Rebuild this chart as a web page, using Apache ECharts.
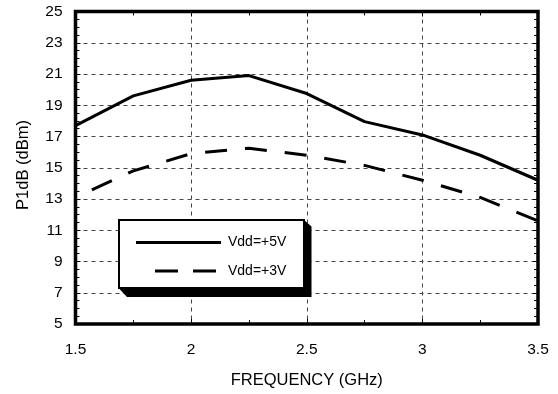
<!DOCTYPE html>
<html>
<head>
<meta charset="utf-8">
<script src="https://cdn.jsdelivr.net/npm/echarts@6/dist/echarts.min.js"></script>
<style>
  html, body { margin: 0; padding: 0; background: #fff; }
  #chart { width: 558px; height: 394px; }
</style>
</head>
<body>
<div id="chart"></div>
<script>
// Output power at 1 dB compression versus frequency, two supply voltages
const freqGHz = [1.5, 1.75, 2, 2.25, 2.5, 2.75, 3, 3.25, 3.5];
const p1dbVdd5 = [17.7, 19.6, 20.6, 20.9, 19.75, 17.95, 17.1, 15.8, 14.2];
const p1dbVdd3 = [13.1, 14.8, 15.9, 16.25, 15.8, 15.15, 14.2, 13.1, 11.6];
const seriesNames = ['Vdd=+5V', 'Vdd=+3V'];
const xTitle = 'FREQUENCY (GHz)';
const yTitle = 'P1dB (dBm)';
const xRange = [1.5, 3.5];
const yRange = [5, 25];

const FONT = '"Liberation Sans", Arial, Helvetica, sans-serif';
const grid = { left: 75.5, right: 20, top: 11.5, bottom: 67.3 };

const chart = echarts.init(document.getElementById('chart'), null, { renderer: 'canvas' });

const gridLine = { show: true, lineStyle: { color: '#444', width: 1, type: [4, 4] } };

function xAxisDef(position, withLabels) {
  return {
    type: 'value', position: position, min: xRange[0], max: xRange[1], interval: 0.5,
    axisLine: { show: false },
    axisTick: { show: true, inside: true, length: 5, lineStyle: { color: '#000' } },
    minorTick: { show: true, splitNumber: 2, length: 4, lineStyle: { color: '#000' } },
    splitLine: withLabels ? gridLine : { show: false },
    axisLabel: {
      show: withLabels, margin: 18, color: '#000', fontSize: 15.5, fontFamily: FONT,
      formatter: v => String(v)
    },
    name: withLabels ? xTitle : '',
    nameLocation: 'middle', nameGap: 48,
    nameTextStyle: { color: '#000', fontSize: 16.5, fontFamily: FONT }
  };
}

function yAxisDef(position, withLabels) {
  return {
    type: 'value', position: position, min: yRange[0], max: yRange[1], interval: 2,
    axisLine: { show: false },
    axisTick: { show: true, inside: true, length: 5, lineStyle: { color: '#000' } },
    minorTick: { show: true, splitNumber: 4, length: 4, lineStyle: { color: '#000' } },
    splitLine: withLabels ? gridLine : { show: false },
    axisLabel: {
      show: withLabels, margin: 13, color: '#000', fontSize: 15.5, fontFamily: FONT
    }
  };
}

const legendGraphics = [
  {
    type: 'text', x: 23, y: 165, rotation: Math.PI / 2,
    style: {
      text: yTitle, fill: '#000', font: '16.5px ' + FONT,
      align: 'center', verticalAlign: 'middle'
    }
  },
  // legend box with bevelled drop shadow
  {
    type: 'polygon', z: 10,
    shape: { points: [[304, 220], [311.5, 226.5], [311.5, 297], [127, 297], [119.5, 289]] },
    style: { fill: '#000' }
  },
  { type: 'rect', z: 11, shape: { x: 119, y: 220, width: 185, height: 68 }, style: { fill: '#fff', stroke: '#000', lineWidth: 2 } },
  { type: 'line', z: 12, shape: { x1: 136, y1: 242.5, x2: 221, y2: 242.5 }, style: { stroke: '#000', lineWidth: 3 } },
  { type: 'line', z: 12, shape: { x1: 155, y1: 271, x2: 216, y2: 271 }, style: { stroke: '#000', lineWidth: 3, lineDash: [23, 15] } },
  { type: 'text', z: 12, x: 228, y: 242.5, style: { text: seriesNames[0], fill: '#000', font: '14px ' + FONT, verticalAlign: 'middle' } },
  { type: 'text', z: 12, x: 228, y: 271, style: { text: seriesNames[1], fill: '#000', font: '14px ' + FONT, verticalAlign: 'middle' } }
];

chart.setOption({
  animation: false,
  backgroundColor: '#fff',
  grid: grid,
  xAxis: [xAxisDef('bottom', true), xAxisDef('top', false)],
  yAxis: [yAxisDef('left', true), yAxisDef('right', false)],
  series: [
    {
      name: seriesNames[0], type: 'line', symbol: 'none', z: 3,
      data: freqGHz.map((f, i) => [f, p1dbVdd5[i]]),
      lineStyle: { color: '#000', width: 3, type: 'solid' }
    },
    {
      name: seriesNames[1], type: 'line', symbol: 'none', z: 3,
      data: freqGHz.map((f, i) => [f, p1dbVdd3[i]]),
      lineStyle: { color: '#000', width: 3, type: [22, 18], dashOffset: 22 }
    }
  ],
  graphic: legendGraphics
});

// heavy plot frame, placed from the axis scales
const p0 = chart.convertToPixel({ gridIndex: 0 }, [xRange[0], yRange[1]]);
const p1 = chart.convertToPixel({ gridIndex: 0 }, [xRange[1], yRange[0]]);
chart.setOption({
  graphic: legendGraphics.concat([{
    type: 'rect', z: 9, silent: true,
    shape: { x: p0[0], y: p0[1], width: p1[0] - p0[0], height: p1[1] - p0[1] },
    style: { fill: 'none', stroke: '#000', lineWidth: 3.5 }
  }])
}, { replaceMerge: ['graphic'] });
</script>
</body>
</html>
